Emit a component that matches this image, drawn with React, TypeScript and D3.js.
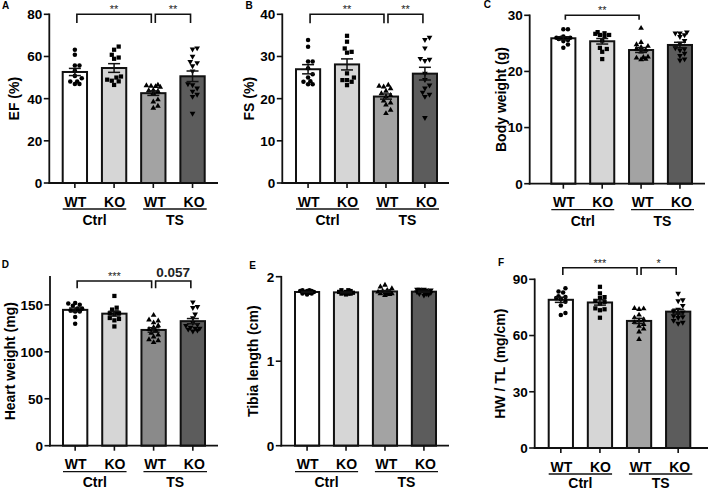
import React from "react";
import * as d3 from "d3";

// ---------- categories ----------
const groupKeys = ["Ctrl WT", "Ctrl KO", "TS WT", "TS KO"];
const genotypeLabels = ["WT", "KO", "WT", "KO"];
const conditionLabels = ["Ctrl", "TS"];

// ---------- data (individual animals per group) ----------
const efCtrlWT = [63.2, 60.8, 55.7, 55.7, 53.2, 50.8, 49.7, 48.1, 48.1, 46.9, 46.9];
const efCtrlKO = [64.7, 63.2, 60.8, 59.5, 58.9, 50.5, 50.0, 49.0, 48.5, 48.2, 46.5];
const efTsWT = [46.5, 46.0, 45.5, 45.8, 46.2, 44.0, 43.5, 43.8, 42.5, 39.5, 38.5, 36.5, 35.5];
const efTsKO = [64, 63.5, 60, 57.5, 57, 55.5, 53, 47, 46.5, 45, 43.5, 42, 41, 33];

const fsCtrlWT = [33.9, 32.3, 28.8, 28.8, 27.2, 25.8, 25.0, 24.1, 24.0, 23.4, 23.4];
const fsCtrlKO = [34.9, 33.5, 31.9, 31.1, 30.9, 26.0, 25.0, 24.4, 24.0, 24.4, 23.2];
const fsTsWT = [23.2, 23.0, 22.8, 22.4, 21.8, 21.2, 20.8, 20.5, 19.5, 19.0, 18.5, 17.3, 16.5];
const fsTsKO = [34.5, 34.0, 32.0, 29.5, 29.3, 29.0, 26.0, 24.5, 23.2, 22.5, 21.5, 21.0, 20.5, 15.5];

const bwCtrlWT = [27.5, 27.5, 26.2, 26.0, 26.0, 26.0, 25.9, 25.8, 25.6, 25.4, 24.8, 24.2];
const bwCtrlKO = [26.8, 26.5, 26.7, 27.0, 26.2, 26.5, 25.5, 24.2, 24.0, 23.5, 22.2];
const bwTsWT = [27.7, 25.2, 24.8, 24.5, 24.3, 24.0, 23.8, 23.5, 22.6, 22.5, 22.4, 22.2, 22.1];
const bwTsKO = [27.0, 26.8, 26.8, 26.5, 26.2, 25.0, 25.5, 24.0, 24.2, 23.8, 23.2, 22.8, 22.2, 22.0];

const hwCtrlWT = [152, 151.5, 149, 150, 146, 146, 143, 144, 143, 137, 130];
const hwCtrlKO = [159.5, 147, 145, 142, 141, 141, 140, 136, 135, 133.5, 127];
const hwTsWT = [139, 134, 133, 131, 128, 126, 124, 122, 120, 118, 116, 113, 112, 110];
const hwTsKO = [153, 148, 147, 140, 136, 131, 129, 128, 126, 125, 125, 124, 123, 122];

const tlCtrlWT = [1.84, 1.84, 1.83, 1.83, 1.83, 1.82, 1.82, 1.81, 1.8, 1.79, 1.8];
const tlCtrlKO = [1.84, 1.84, 1.83, 1.82, 1.82, 1.81, 1.8, 1.8, 1.79, 1.8, 1.81];
const tlTsWT = [1.9, 1.88, 1.86, 1.84, 1.83, 1.82, 1.82, 1.81, 1.8, 1.8, 1.79, 1.78, 1.8];
const tlTsKO = [1.85, 1.85, 1.85, 1.84, 1.84, 1.84, 1.83, 1.82, 1.82, 1.81, 1.8, 1.8, 1.79, 1.78];

const hwtlCtrlWT = [85.2, 83.5, 83, 81, 80.5, 80, 79.5, 78, 76, 72, 71];
const hwtlCtrlKO = [86, 82.5, 80.5, 80, 78.5, 78, 77, 74.5, 74, 73.5, 69.5];
const hwtlTsWT = [74.5, 74.3, 74, 71, 69.5, 68.5, 68, 67, 66, 65, 63.5, 62, 58];
const hwtlTsKO = [82.5, 79, 78.5, 76, 74, 73, 72.5, 71.5, 70.5, 70, 69.5, 68, 67, 66.5];

// ---------- axis ticks ----------
const efTicks = [0, 20, 40, 60, 80];
const fsTicks = [0, 10, 20, 30, 40];
const bwTicks = [0, 10, 20, 30];
const hwTicks = [0, 50, 100, 150];
const tlTicks = [0, 1, 2];
const hwtlTicks = [0, 30, 60, 90];

// ---------- significance annotations: [from, to, label, value at bracket top] ----------
const efSig: [number, number, string, number][] = [[0, 2, "**", 80], [2, 3, "**", 80]];
const fsSig: [number, number, string, number][] = [[0, 2, "**", 40], [2, 3, "**", 40]];
const bwSig: [number, number, string, number][] = [[0, 2, "**", 30]];
const hwSig: [number, number, string, number][] = [[0, 2, "***", 175.5], [2, 3, "0.057", 175.5]];
const tlSig: [number, number, string, number][] = [];
const hwtlSig: [number, number, string, number][] = [[0, 2, "***", 96.2], [2, 3, "*", 96.2]];

const FONT = "'Liberation Sans', Arial, Helvetica, sans-serif";

type Layout = {
  axisX: number; xEnd: number; barL: number; barR: number;
  yTop: number; y0: number; titleX: number; letterX: number; letterY: number;
  drop: number; condDy: number; darkTS?: boolean;
};

const panels = [
  { letter: "A", title: "EF (%)", data: [efCtrlWT, efCtrlKO, efTsWT, efTsKO], max: 80, ticks: efTicks, sig: efSig,
    L: { axisX: 49.3, xEnd: 218, barL: 62.7, barR: 204.7, yTop: 14.3, y0: 183, titleX: 14, letterX: 2, letterY: 9.3, drop: 8.7, condDy: 37 } as Layout },
  { letter: "B", title: "FS (%)", data: [fsCtrlWT, fsCtrlKO, fsTsWT, fsTsKO], max: 40, ticks: fsTicks, sig: fsSig,
    L: { axisX: 282.3, xEnd: 449, barL: 296, barR: 437, yTop: 14.3, y0: 183, titleX: 249, letterX: 245.5, letterY: 9, drop: 9, condDy: 37 } as Layout },
  { letter: "C", title: "Body weight (g)", data: [bwCtrlWT, bwCtrlKO, bwTsWT, bwTsKO], max: 30, ticks: bwTicks, sig: bwSig,
    L: { axisX: 529.7, xEnd: 705, barL: 551.3, barR: 692, yTop: 15.3, y0: 183.7, titleX: 500.5, letterX: 483.7, letterY: 8.3, drop: 4.5, condDy: 37 } as Layout },
  { letter: "D", title: "Heart weight (mg)", data: [hwCtrlWT, hwCtrlKO, hwTsWT, hwTsKO], max: 180, ticks: hwTicks, sig: hwSig,
    L: { axisX: 50, xEnd: 218, barL: 63, barR: 205, yTop: 276.7, y0: 445.7, titleX: 10, letterX: 1.7, letterY: 267.7, drop: 7.3, condDy: 36, darkTS: true } as Layout },
  { letter: "E", title: "Tibia length (cm)", data: [tlCtrlWT, tlCtrlKO, tlTsWT, tlTsKO], max: 2, ticks: tlTicks, sig: tlSig,
    L: { axisX: 281.3, xEnd: 449, barL: 295, barR: 436, yTop: 276.7, y0: 445.7, titleX: 253, letterX: 249.3, letterY: 269, drop: 7, condDy: 36 } as Layout },
  { letter: "F", title: "HW / TL (mg/cm)", data: [hwtlCtrlWT, hwtlCtrlKO, hwtlTsWT, hwtlTsKO], max: 90, ticks: hwtlTicks, sig: hwtlSig,
    L: { axisX: 534.7, xEnd: 708, barL: 548.7, barR: 690.3, yTop: 279.3, y0: 448, titleX: 500, letterX: 498, letterY: 265.7, drop: 7.3, condDy: 34.5 } as Layout },
];

const fills = ["#ffffff", "#d6d6d6", "#a3a3a3", "#5c5c5c"];
const fillsDark = ["#ffffff", "#d6d6d6", "#8a8a8a", "#5c5c5c"];

const symbolTypes = [d3.symbolCircle, d3.symbolSquare, d3.symbolTriangle, d3.symbolTriangle];
const symbolSizes = [16, 18, 14, 14];

// deterministic beeswarm-like dodge within the bar
function dodge(ys: number[], maxOff: number, minDist: number, step: number) {
  const order = ys.map((y, i) => i).sort((a, b) => ys[b] - ys[a]);
  const placed: { x: number; y: number }[] = [];
  const xs = new Array(ys.length).fill(0);
  const cands: number[] = [0];
  for (let k = step; k <= maxOff + 1e-6; k += step) { cands.push(k); cands.push(-k); }
  for (const i of order) {
    const y = ys[i];
    let best = 0, bestScore = -Infinity;
    for (const c of cands) {
      let md = Infinity;
      for (const p of placed) md = Math.min(md, Math.hypot(p.x - c, p.y - y));
      if (md >= minDist) { best = c; bestScore = Infinity; break; }
      if (md > bestScore) { bestScore = md; best = c; }
    }
    xs[i] = best;
    placed.push({ x: best, y });
  }
  return xs;
}

function PanelView({ p }: { p: typeof panels[number] }) {
  const L = p.L;
  const y = d3.scaleLinear().domain([0, p.max]).range([L.y0, L.yTop]);
  const x = d3.scaleBand<string>().domain(groupKeys).range([L.barL, L.barR]).paddingInner(0.38).paddingOuter(0);
  const bw = x.bandwidth();
  const cx = (i: number) => (x(groupKeys[i]) as number) + bw / 2;
  const colors = L.darkTS ? fillsDark : fills;

  return (
    <g fontFamily={FONT}>
      <text x={L.letterX} y={L.letterY} fontSize={10} fontWeight="bold">{p.letter}</text>
      {/* bars */}
      {p.data.map((vals, i) => {
        const m = d3.mean(vals) as number;
        return (
          <rect key={"b" + i} x={x(groupKeys[i])} y={y(m)} width={bw} height={L.y0 - y(m)}
            fill={colors[i]} stroke="#111" strokeWidth={2} />
        );
      })}
      {/* points */}
      {p.data.map((vals, i) => {
        const ys = vals.map((v) => y(v));
        const offs = dodge(ys, bw / 2 - 3, 4.4, 2.3);
        const path = d3.symbol().type(symbolTypes[i]).size(symbolSizes[i])() as string;
        return (
          <g key={"p" + i}>
            {vals.map((v, k) => (
              <path key={k} d={path} fill="#000"
                transform={`translate(${cx(i) + offs[k]},${ys[k]})${i === 3 ? " rotate(180)" : ""}`} />
            ))}
          </g>
        );
      })}
      {/* error bars (SEM) */}
      {p.data.map((vals, i) => {
        const m = d3.mean(vals) as number;
        const sem = (d3.deviation(vals) as number) / Math.sqrt(vals.length);
        const c = cx(i);
        const hi = y(m + sem), lo = y(m - sem);
        return (
          <g key={"e" + i} stroke="#111" strokeWidth={1.5}>
            <line x1={c} x2={c} y1={hi} y2={lo} />
            <line x1={c - 6} x2={c + 6} y1={hi} y2={hi} />
            <line x1={c - 6} x2={c + 6} y1={lo} y2={lo} />
          </g>
        );
      })}
      {/* y axis */}
      <line x1={L.axisX} x2={L.axisX} y1={L.yTop - 0.8} y2={L.y0 + 0.8} stroke="#111" strokeWidth={1.8} />
      {p.ticks.map((t) => (
        <g key={"t" + t}>
          <line x1={L.axisX - 5.5} x2={L.axisX} y1={y(t)} y2={y(t)} stroke="#111" strokeWidth={1.6} />
          <text x={L.axisX - 7} y={y(t)} dy="0.36em" textAnchor="end" fontSize={13.5} fontWeight="bold">{t}</text>
        </g>
      ))}
      {/* x axis */}
      <line x1={L.axisX - 0.9} x2={L.xEnd} y1={L.y0} y2={L.y0} stroke="#111" strokeWidth={1.8} />
      {groupKeys.map((g, i) => (
        <g key={"x" + i}>
          <line x1={cx(i)} x2={cx(i)} y1={L.y0} y2={L.y0 + 5} stroke="#111" strokeWidth={1.6} />
          <text x={cx(i) + (i >= 2 ? 1.5 : 0.5)} y={L.y0 + 18.5} dy="0.36em" textAnchor="middle" fontSize={14} fontWeight="bold">{genotypeLabels[i]}</text>
        </g>
      ))}
      {conditionLabels.map((c, j) => {
        const a = x(groupKeys[2 * j]) as number;
        const b = (x(groupKeys[2 * j + 1]) as number) + bw;
        const sh = j === 1 ? 2 : 0;
        return (
          <g key={"c" + j}>
            <line x1={a + sh} x2={b + sh} y1={L.y0 + 26} y2={L.y0 + 26} stroke="#111" strokeWidth={1.3} />
            <text x={(a + b) / 2 + sh} y={L.y0 + L.condDy} dy="0.36em" textAnchor="middle" fontSize={14} fontWeight="bold">{c}</text>
          </g>
        );
      })}
      {/* y title */}
      <text transform={`translate(${L.titleX},${(L.yTop + L.y0) / 2}) rotate(-90)`} textAnchor="middle" dy="0.36em"
        fontSize={14} fontWeight="bold">{p.title}</text>
      {/* significance brackets */}
      {p.sig.map(([a, b, lab, v], k) => {
        const x1 = cx(a) + 2, x2 = cx(b) - 2;
        const yy = y(v);
        const isNum = /\d/.test(lab);
        return (
          <g key={"s" + k}>
            <path d={`M${x1},${yy + L.drop}V${yy}H${x2}V${yy + L.drop}`} fill="none" stroke="#111" strokeWidth={1.6} />
            <text x={(x1 + x2) / 2} y={isNum ? yy - 3.5 : yy - 1} textAnchor="middle"
              fontSize={isNum ? 13.5 : 11} fontWeight={isNum ? "bold" : "normal"} fill="#222">{lab}</text>
          </g>
        );
      })}
    </g>
  );
}

export default function App() {
  return (
    <svg width={708} height={490} style={{ position: "absolute", left: 0, top: 0, background: "#fff" }}>
      <rect width={708} height={490} fill="#fff" />
      {panels.map((p) => (
        <PanelView key={p.letter} p={p} />
      ))}
    </svg>
  );
}
